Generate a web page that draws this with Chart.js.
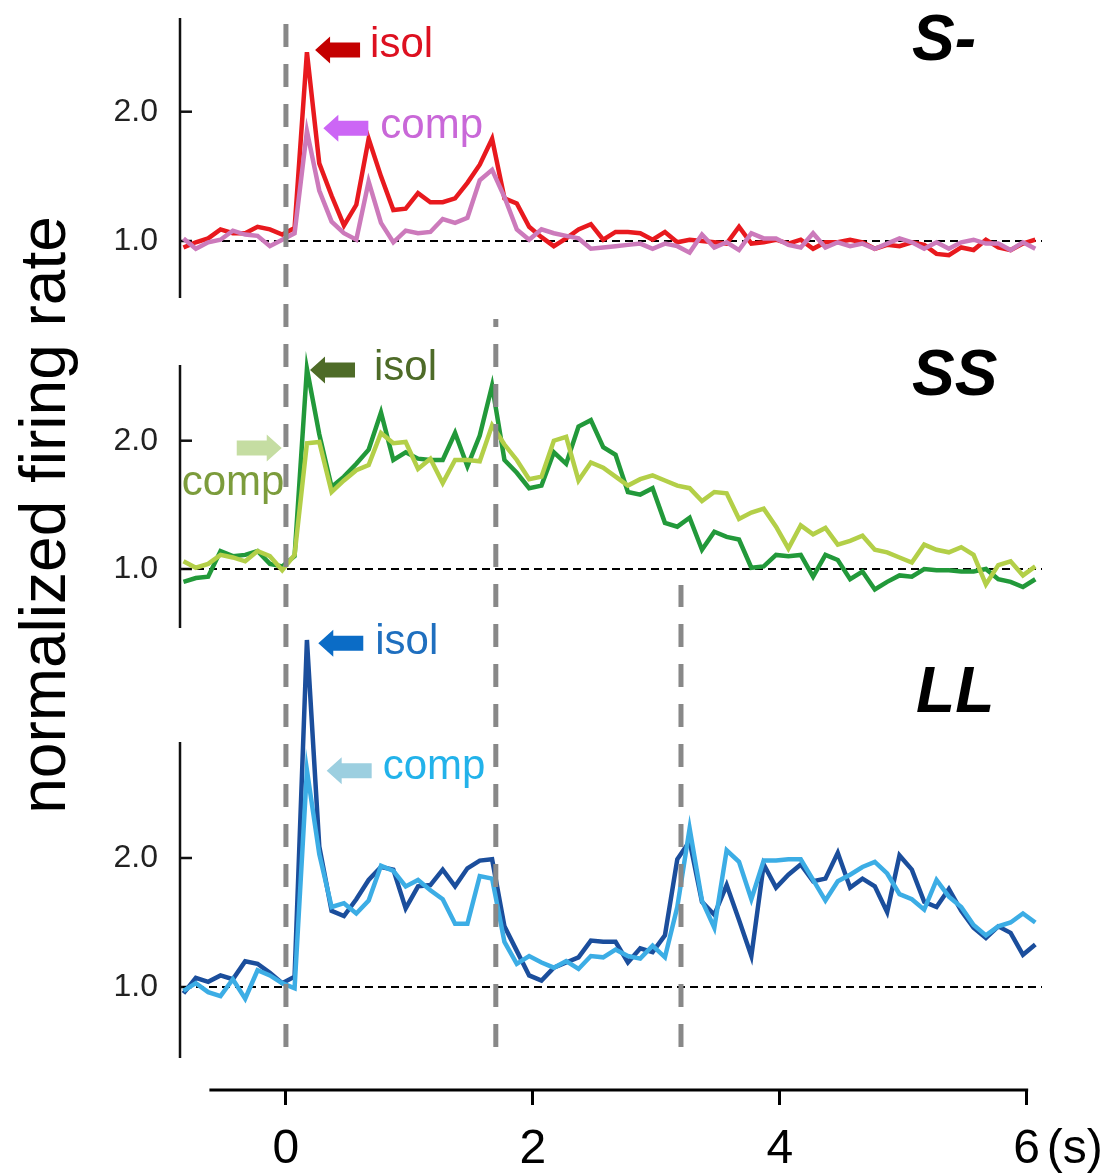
<!DOCTYPE html>
<html>
<head>
<meta charset="utf-8">
<script src="https://cdn.jsdelivr.net/npm/chart.js@4.4.1/dist/chart.umd.min.js"></script>
<style>
html,body{margin:0;padding:0;background:#ffffff;}
#wrap{position:relative;width:1108px;height:1173px;}
canvas{display:block;}
</style>
</head>
<body>
<div id="wrap"><canvas id="c" width="1108" height="1173"></canvas></div>
<script>
// ---------------- data ----------------
const times = [-0.83,-0.73,-0.63,-0.53,-0.43,-0.33,-0.23,-0.13,-0.03,0.07,
  0.17,0.27,0.37,0.47,0.57,0.67,0.77,0.87,0.97,1.07,
  1.17,1.27,1.37,1.47,1.57,1.67,1.77,1.87,1.97,2.07,
  2.17,2.27,2.37,2.47,2.57,2.67,2.77,2.87,2.97,3.07,
  3.17,3.27,3.37,3.47,3.57,3.67,3.77,3.87,3.97,4.07,
  4.17,4.27,4.37,4.47,4.57,4.67,4.77,4.87,4.97,5.07,
  5.17,5.27,5.37,5.47,5.57,5.67,5.77,5.87,5.97,6.07];

const sMinusIsol = [0.95,0.99,1.02,1.09,1.06,1.06,1.11,1.09,1.05,1.10,
  2.46,1.60,1.35,1.12,1.28,1.79,1.50,1.24,1.25,1.37,
  1.30,1.30,1.33,1.45,1.59,1.79,1.33,1.29,1.11,1.03,
  0.96,1.02,1.09,1.13,1.01,1.07,1.07,1.06,1.01,1.07,
  0.99,1.01,1.00,0.99,0.98,1.11,0.98,0.99,1.01,0.98,
  1.01,0.94,0.99,0.99,1.01,0.99,0.94,0.97,0.96,0.99,
  0.97,0.90,0.89,0.95,0.93,1.01,0.95,0.93,0.98,1.01];
const sMinusComp = [1.02,0.94,0.99,1.01,1.08,1.05,1.04,0.96,1.01,1.06,
  1.85,1.39,1.15,1.06,1.01,1.46,1.14,0.99,1.08,1.06,
  1.07,1.17,1.14,1.18,1.47,1.55,1.34,1.09,1.01,1.09,
  1.06,1.04,1.02,0.94,0.95,0.96,0.97,0.98,0.94,0.98,
  0.96,0.91,1.05,0.95,0.99,0.93,1.06,1.02,1.02,0.97,
  0.95,1.06,0.95,0.99,0.96,0.98,0.94,0.98,1.02,0.99,
  0.94,0.99,0.94,0.99,1.01,0.98,0.98,0.93,0.99,0.94];

const ssIsol = [0.90,0.93,0.94,1.14,1.10,1.11,1.14,1.04,1.02,1.10,
  2.56,2.05,1.64,1.72,1.82,1.93,2.22,1.85,1.91,1.86,
  1.85,1.85,2.06,1.80,2.04,2.43,1.85,1.75,1.63,1.65,
  1.91,1.82,2.11,2.16,1.95,1.89,1.60,1.58,1.63,1.36,
  1.33,1.40,1.15,1.29,1.25,1.23,1.01,1.02,1.11,1.10,
  1.11,0.94,1.11,1.07,0.92,0.98,0.84,0.90,0.95,0.94,
  1.00,0.99,0.99,0.98,0.98,1.00,0.92,0.90,0.86,0.92];
const ssComp = [1.06,1.01,1.04,1.11,1.09,1.06,1.14,1.10,0.99,1.11,
  1.98,1.99,1.60,1.69,1.77,1.81,2.06,1.98,1.99,1.78,
  1.86,1.67,1.85,1.85,1.84,2.12,1.97,1.85,1.70,1.72,
  2.00,2.03,1.69,1.83,1.79,1.72,1.65,1.70,1.73,1.69,
  1.65,1.63,1.53,1.60,1.59,1.39,1.44,1.47,1.33,1.16,
  1.34,1.27,1.32,1.19,1.22,1.26,1.15,1.13,1.09,1.05,
  1.19,1.15,1.13,1.17,1.11,0.88,1.03,1.06,0.95,1.02];

const llIsol = [0.95,1.07,1.04,1.09,1.06,1.20,1.18,1.11,1.03,1.08,
  3.69,2.09,1.59,1.55,1.68,1.83,1.93,1.91,1.61,1.78,
  1.79,1.91,1.78,1.92,1.98,1.99,1.47,1.28,1.09,1.05,
  1.15,1.19,1.23,1.36,1.35,1.35,1.19,1.30,1.27,1.40,
  1.99,2.13,1.66,1.56,1.79,1.52,1.24,1.95,1.77,1.87,
  1.95,1.82,1.84,2.04,1.77,1.84,1.78,1.58,2.02,1.91,
  1.66,1.62,1.76,1.59,1.46,1.38,1.47,1.42,1.25,1.33];
const llComp = [0.97,1.03,0.96,0.93,1.06,0.91,1.13,1.09,1.03,0.99,
  2.68,2.03,1.62,1.65,1.57,1.67,1.94,1.90,1.78,1.83,
  1.75,1.68,1.49,1.49,1.86,1.84,1.35,1.18,1.24,1.19,
  1.15,1.20,1.14,1.24,1.23,1.29,1.24,1.22,1.32,1.23,
  1.62,2.23,1.67,1.46,2.06,1.97,1.68,1.98,1.98,1.99,
  1.99,1.83,1.67,1.82,1.87,1.93,1.97,1.88,1.72,1.68,
  1.60,1.83,1.70,1.62,1.48,1.40,1.47,1.50,1.57,1.50];

const panelLabels = ['S-', 'SS', 'LL'];
const yTickValues = [1, 2];
const xTickValues = [0, 2, 4, 6];
const eventTimes = [0, 1.7, 3.2];
const yAxisTitle = 'normalized firing rate';
const xUnit = '(s)';

// ---------------- layout / style ----------------
const FONT = "'Liberation Sans', Arial, Helvetica, sans-serif";
Chart.defaults.font.family = FONT;

const panels = [
  {id:'yS',  label:panelLabels[0], isol:sMinusIsol, comp:sMinusComp, isolColor:'#e8191e', compColor:'#cc7abb',
   min:0.3117, max:2.7865, stackWeight:320, weight:3, axisExtent:[0.559, 2.725], labelAt:[5.071, 2.40]},
  {id:'ySS', label:panelLabels[1], isol:ssIsol, comp:ssComp, isolColor:'#22993a', compColor:'#b3cf48',
   min:0.5246, max:2.8628, stackWeight:300, weight:2, axisExtent:[0.54, 2.59], labelAt:[5.071, 2.356]},
  {id:'yLL', label:panelLabels[2], isol:llIsol, comp:llComp, isolColor:'#1b4e9c', compColor:'#3cade5',
   min:0.2016, max:3.7674, stackWeight:460, weight:1, axisExtent:[0.45, 2.90], labelAt:[5.104, 3.13]}
];

// event line vertical extents (panel scale + value)
const eventExtents = [
  {top:['yS', 2.7246], bottom:['yLL', 0.512]},
  {top:['yS', 0.397],  bottom:['yLL', 0.512]},
  {top:['ySS', 0.875], bottom:['yLL', 0.512]}
];

const annotations = [
  {panel:'yS',  t:0.236,  v:2.477, dir:-1, arrowColor:'#c40000', text:'isol', textColor:'#dd1020', dx:55,   dy:7},
  {panel:'yS',  t:0.303,  v:1.872, dir:-1, arrowColor:'#cc66f5', text:'comp', textColor:'#c968d8', dx:57,   dy:10},
  {panel:'ySS', t:0.195,  v:2.551, dir:-1, arrowColor:'#4e6b28', text:'isol', textColor:'#4e6b28', dx:64,   dy:10},
  {panel:'ySS', t:-0.034, v:1.943, dir:1,  arrowColor:'#c5dda2', text:'comp', textColor:'#7c9c3c', dx:-100, dy:47},
  {panel:'yLL', t:0.262,  v:3.664, dir:-1, arrowColor:'#0b6cc6', text:'isol', textColor:'#1f6fbf', dx:57,   dy:11},
  {panel:'yLL', t:0.330,  v:2.677, dir:-1, arrowColor:'#9ccfe0', text:'comp', textColor:'#22b2ea', dx:56,   dy:8}
];

const STYLE = {
  yAxisWidth:181, xAxisHeight:83, xAxisStart:-0.62,
  yTitleX:65, yTitleY:515,
  dash:[23,17], dashOrigin:24
};

function noPadding(s) { s.paddingTop = 0; s.paddingBottom = 0; s.paddingLeft = 0; s.paddingRight = 0; }

// ---------------- build chart ----------------
const datasets = [];
panels.forEach(p => {
  datasets.push({label:p.label+' comp', data:times.map((t,i)=>({x:t, y:p.comp[i]})), yAxisID:p.id,
    borderColor:p.compColor, borderWidth:4.5, pointRadius:0, tension:0, fill:false, order:0});
  datasets.push({label:p.label+' isol', data:times.map((t,i)=>({x:t, y:p.isol[i]})), yAxisID:p.id,
    borderColor:p.isolColor, borderWidth:4.5, pointRadius:0, tension:0, fill:false, order:1});
});

const scales = {
  x: {
    type:'linear', position:'bottom', min:-0.85, max:6.1,
    afterBuildTicks: s => { s.ticks = xTickValues.map(v => ({value:v})); },
    afterFit: s => { s.height = STYLE.xAxisHeight; noPadding(s); },
    grid:{display:true, drawOnChartArea:false, drawTicks:true, tickLength:15, tickWidth:3, tickColor:'#000', color:'#000'},
    border:{display:false},
    ticks:{font:{size:48}, color:'#000', padding:16, maxRotation:0, autoSkip:false, callback:v => String(v)}
  }
};
panels.forEach(p => {
  scales[p.id] = {
    type:'linear', position:'left', stack:'panels', stackWeight:p.stackWeight, weight:p.weight,
    min:p.min, max:p.max,
    afterBuildTicks: s => { s.ticks = yTickValues.map(v => ({value:v})); },
    afterFit: s => { s.width = STYLE.yAxisWidth; noPadding(s); },
    grid:{display:false}, border:{display:false},
    ticks:{font:{size:32}, color:'#222', padding:15, callback:v => Number(v).toFixed(1)}
  };
});

function drawArrow(ctx, tx, ty, dir, color) {
  const len = 45, head = 15, headHalf = 13.5, bodyHalf = 7.5;
  const s = -dir; // direction of the body from the tip
  ctx.fillStyle = color;
  ctx.beginPath();
  ctx.moveTo(tx, ty);
  ctx.lineTo(tx + s*head, ty - headHalf);
  ctx.lineTo(tx + s*head, ty - bodyHalf);
  ctx.lineTo(tx + s*len, ty - bodyHalf);
  ctx.lineTo(tx + s*len, ty + bodyHalf);
  ctx.lineTo(tx + s*head, ty + bodyHalf);
  ctx.lineTo(tx + s*head, ty + headHalf);
  ctx.closePath();
  ctx.fill();
}

const decor = {
  id:'decor',
  beforeDatasetsDraw(chart) {
    const ctx = chart.ctx, ca = chart.chartArea;
    ctx.save();
    const ax = ca.left - 1;
    panels.forEach(p => {
      const s = chart.scales[p.id];
      ctx.setLineDash([]);
      ctx.strokeStyle = '#111'; ctx.lineWidth = 2.5;
      ctx.beginPath();
      ctx.moveTo(ax, s.getPixelForValue(p.axisExtent[1]));
      ctx.lineTo(ax, s.getPixelForValue(p.axisExtent[0]));
      ctx.stroke();
      yTickValues.forEach(v => {
        const y = s.getPixelForValue(v);
        ctx.beginPath(); ctx.moveTo(ax, y); ctx.lineTo(ax + 12, y); ctx.stroke();
      });
      // baseline at 1.0
      ctx.setLineDash([8,5]); ctx.lineWidth = 2; ctx.strokeStyle = '#000';
      const yb = s.getPixelForValue(1);
      ctx.beginPath(); ctx.moveTo(ca.left + 2, yb); ctx.lineTo(ca.right + 3, yb); ctx.stroke();
    });
    // x axis line
    const xs = chart.scales.x;
    ctx.setLineDash([]); ctx.strokeStyle = '#000'; ctx.lineWidth = 3;
    ctx.beginPath();
    ctx.moveTo(xs.getPixelForValue(STYLE.xAxisStart), xs.top);
    ctx.lineTo(xs.getPixelForValue(xTickValues[xTickValues.length-1]) + 1.5, xs.top);
    ctx.stroke();
    ctx.restore();
  },
  afterDatasetsDraw(chart) {
    const ctx = chart.ctx, xs = chart.scales.x;
    ctx.save();
    ctx.strokeStyle = '#888888'; ctx.lineWidth = 5; ctx.lineCap = 'butt';
    const period = STYLE.dash[0] + STYLE.dash[1];
    eventTimes.forEach((t, k) => {
      const e = eventExtents[k];
      const y1 = chart.scales[e.top[0]].getPixelForValue(e.top[1]);
      const y2 = chart.scales[e.bottom[0]].getPixelForValue(e.bottom[1]);
      const x = xs.getPixelForValue(t);
      ctx.setLineDash(STYLE.dash);
      ctx.lineDashOffset = (((y1 - STYLE.dashOrigin) % period) + period) % period;
      ctx.beginPath(); ctx.moveTo(x, y1); ctx.lineTo(x, y2); ctx.stroke();
    });
    ctx.restore();
  },
  afterDraw(chart) {
    const ctx = chart.ctx, xs = chart.scales.x;
    ctx.save();
    // arrows + labels
    ctx.font = '42px ' + FONT;
    ctx.textBaseline = 'alphabetic'; ctx.textAlign = 'left';
    annotations.forEach(a => {
      const tx = xs.getPixelForValue(a.t);
      const ty = chart.scales[a.panel].getPixelForValue(a.v);
      drawArrow(ctx, tx, ty, a.dir, a.arrowColor);
      ctx.fillStyle = a.textColor;
      ctx.fillText(a.text, tx + a.dx, ty + a.dy);
    });
    // panel labels
    ctx.font = 'italic bold 64px ' + FONT;
    ctx.fillStyle = '#000';
    panels.forEach(p => {
      ctx.fillText(p.label, xs.getPixelForValue(p.labelAt[0]), chart.scales[p.id].getPixelForValue(p.labelAt[1]));
    });
    // unit
    ctx.font = '48px ' + FONT;
    ctx.fillText(xUnit, xs.getPixelForValue(6) + 20, 1163);
    // y title
    ctx.translate(STYLE.yTitleX, STYLE.yTitleY);
    ctx.rotate(-Math.PI/2);
    ctx.textAlign = 'center';
    ctx.font = '64px ' + FONT;
    ctx.fillText(yAxisTitle, 0, 0);
    ctx.restore();
  }
};

new Chart(document.getElementById('c'), {
  type:'line',
  data:{datasets},
  options:{
    responsive:false, animation:false, devicePixelRatio:1,
    layout:{autoPadding:false, padding:{top:10, right:69, bottom:0, left:0}},
    plugins:{legend:{display:false}, tooltip:{enabled:false}, title:{display:false}},
    scales
  },
  plugins:[decor]
});
</script>
</body>
</html>
